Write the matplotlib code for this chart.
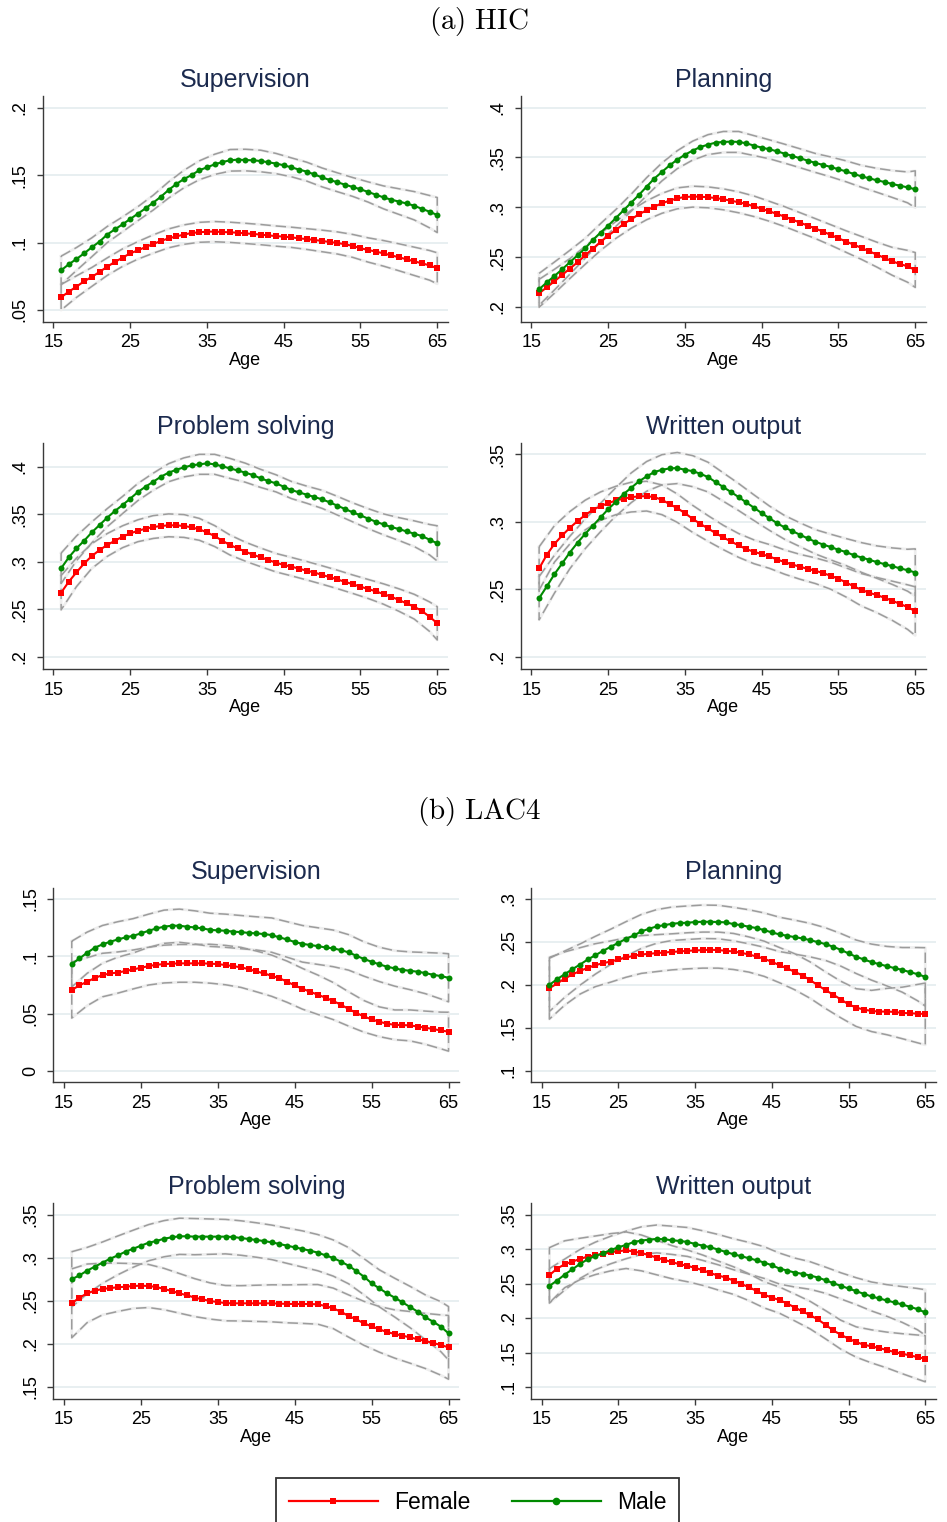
import matplotlib
matplotlib.use('Agg')
import matplotlib.pyplot as plt
from matplotlib.lines import Line2D

plt.rcParams['font.family'] = ['Liberation Sans', 'DejaVu Sans']
plt.rcParams['mathtext.fontset'] = 'cm'
plt.rcParams['lines.scale_dashes'] = False

# ---------------- data ----------------
ages = list(range(16, 66))
ci_ages = list(range(16, 65, 2)) + [65]
xticks = [15, 25, 35, 45, 55, 65]
section_titles = [r'$\mathrm{(a)\ HIC}$', r'$\mathrm{(b)\ LAC4}$']
series_labels = ['Female', 'Male']

# (a) HIC - Supervision
hic_sup_male = [.0794, .0839, .0878, .0920, .0965, .1007, .1059, .1098, .1135, .1175,
                .1214, .1254, .1296, .1340, .1390, .1434, .1471, .1501, .1536, .1558,
                .1580, .1597, .1610, .1615, .1612, .1610, .1605, .1595, .1586, .1573,
                .1558, .1541, .1526, .1505, .1483, .1464, .1447, .1429, .1412, .1395,
                .1375, .1355, .1335, .1318, .1304, .1290, .1273, .1250, .1229, .1204]
hic_sup_female = [.0594, .0636, .0673, .0713, .0745, .0782, .0821, .0856, .0888, .0920,
                  .0942, .0967, .0989, .1012, .1031, .1046, .1059, .1071, .1076, .1081,
                  .1081, .1078, .1076, .1073, .1068, .1064, .1059, .1053, .1048, .1044,
                  .1039, .1031, .1026, .1019, .1012, .1004, .0997, .0987, .0975, .0958,
                  .0945, .0933, .0920, .0905, .0891, .0876, .0861, .0846, .0831, .0809]
hic_sup_male_hw = [.0105, .0085, .007, .006, .0055, .0052, .0055, .006, .0065, .007, .0075, .008, .008,
                   .008, .0075, .007, .007, .007, .007, .007, .0075, .0085, .0095, .0105, .012, .013]
hic_sup_female_hw = [.0095, .008, .007, .0065, .0065, .0065, .0068, .007, .0072, .0074, .0075, .0075, .0075,
                     .0075, .0075, .0075, .0077, .008, .0082, .0085, .009, .0095, .01, .0105, .011, .0115]

# (a) HIC - Planning
hic_plan_male = [.2177, .2247, .2311, .2378, .2448, .2518, .2589, .2672, .2746, .2816,
                 .2893, .2970, .3047, .3124, .3207, .3288, .3355, .3421, .3478, .3528,
                 .3569, .3605, .3629, .3649, .3656, .3659, .3656, .3642, .3619, .3599,
                 .3582, .3562, .3538, .3515, .3492, .3468, .3445, .3425, .3405, .3381,
                 .3361, .3334, .3311, .3291, .3271, .3254, .3234, .3217, .3200, .3181]
hic_plan_female = [.2137, .2197, .2258, .2321, .2385, .2448, .2518, .2585, .2652, .2716,
                   .2773, .2833, .2880, .2930, .2970, .3007, .3040, .3067, .3090, .3104,
                   .3107, .3107, .3100, .3094, .3080, .3067, .3050, .3033, .3010, .2985,
                   .2960, .2933, .2906, .2876, .2846, .2816, .2786, .2756, .2722, .2689,
                   .2656, .2625, .2592, .2559, .2525, .2492, .2458, .2431, .2408, .2371]
hic_plan_male_hw = [.016, .014, .012, .010, .009, .0085, .0085, .009, .009, .009, .0095, .010, .0105,
                    .0105, .010, .0095, .0095, .0095, .0095, .010, .0105, .011, .012, .0135, .0155, .0185]
hic_plan_female_hw = [.014, .012, .010, .009, .0085, .0085, .009, .0095, .010, .0105, .0105, .0105, .0105,
                      .0105, .0103, .010, .010, .010, .010, .0103, .0108, .0115, .0125, .014, .016, .0175]

# (a) HIC - Problem solving
hic_prob_male = [.2932, .3047, .3142, .3222, .3310, .3387, .3464, .3534, .3597, .3664,
                 .3734, .3790, .3842, .3895, .3937, .3968, .3993, .4014, .4025, .4035,
                 .4025, .4004, .3982, .3961, .3937, .3912, .3877, .3849, .3825, .3790,
                 .3755, .3730, .3706, .3681, .3657, .3625, .3590, .3555, .3520, .3489,
                 .3454, .3422, .3394, .3366, .3345, .3320, .3296, .3271, .3233, .3194]
hic_prob_female = [.2676, .2792, .2890, .2984, .3061, .3124, .3177, .3222, .3264, .3299,
                   .3327, .3348, .3366, .3377, .3384, .3384, .3377, .3363, .3342, .3310,
                   .3271, .3222, .3177, .3142, .3107, .3075, .3047, .3019, .2991, .2967,
                   .2950, .2928, .2907, .2888, .2862, .2840, .2815, .2790, .2765, .2739,
                   .2715, .2690, .2662, .2634, .2599, .2564, .2529, .2483, .2424, .2354]
hic_prob_male_hw = [.016, .013, .011, .0095, .009, .009, .009, .0095, .010, .0105, .0105, .0105, .010,
                    .0095, .009, .009, .009, .0095, .0098, .010, .0105, .011, .012, .0135, .016, .0185]
hic_prob_female_hw = [.018, .015, .013, .012, .0115, .0115, .012, .012, .012, .0115, .011, .0105, .010,
                      .0098, .0097, .0097, .0097, .0097, .0097, .0097, .010, .0107, .0118, .013, .0155, .0175]

# (a) HIC - Written output
hic_writ_male = [.2434, .2521, .2612, .2691, .2772, .2844, .2910, .2970, .3031, .3093,
                 .3147, .3204, .3251, .3298, .3335, .3367, .3384, .3394, .3397, .3384,
                 .3374, .3355, .3330, .3293, .3256, .3219, .3182, .3142, .3103, .3063,
                 .3026, .2989, .2957, .2930, .2903, .2876, .2851, .2831, .2812, .2792,
                 .2775, .2752, .2735, .2718, .2701, .2686, .2671, .2655, .2641, .2624]
hic_writ_female = [.2654, .2755, .2836, .2898, .2955, .3004, .3049, .3088, .3115, .3137,
                   .3157, .3170, .3182, .3187, .3189, .3182, .3162, .3130, .3100, .3063,
                   .3021, .2984, .2950, .2915, .2883, .2854, .2824, .2797, .2777, .2760,
                   .2743, .2720, .2701, .2683, .2666, .2651, .2637, .2619, .2600, .2577,
                   .2550, .2521, .2496, .2474, .2457, .2437, .2415, .2392, .2368, .2338]
hic_writ_male_hw = [.016, .014, .012, .011, .0105, .0105, .011, .011, .0112, .0115, .0115, .011, .0105,
                    .010, .0095, .009, .0088, .0088, .009, .0095, .010, .011, .012, .0135, .0155, .0175]
hic_writ_female_hw = [.016, .0135, .012, .011, .0105, .0105, .011, .011, .011, .0105, .010, .0095, .009,
                      .0088, .0088, .0088, .009, .0092, .0095, .010, .0108, .012, .013, .0145, .0165, .018]

# (b) LAC4 - Supervision
lac_sup_male = [.0932, .0981, .1031, .1075, .1104, .1127, .1147, .1165, .1179, .1200,
                .1223, .1243, .1258, .1267, .1267, .1258, .1252, .1243, .1231, .1226,
                .1223, .1215, .1211, .1204, .1200, .1194, .1185, .1165, .1147, .1124,
                .1109, .1098, .1089, .1077, .1069, .1054, .1034, .1005, .0976, .0952,
                .0929, .0909, .0894, .0881, .0873, .0865, .0853, .0838, .0827, .0812]
lac_sup_female = [.0705, .0746, .0778, .0810, .0836, .0850, .0858, .0871, .0885, .0900,
                  .0914, .0926, .0932, .0935, .0938, .0938, .0938, .0938, .0935, .0932,
                  .0923, .0914, .0903, .0888, .0868, .0850, .0830, .0808, .0778, .0745,
                  .0716, .0690, .0664, .0638, .0609, .0577, .0540, .0504, .0475, .0448,
                  .0428, .0411, .0401, .0399, .0396, .0386, .0376, .0364, .0352, .0341]
lac_sup_male_hw = [.020, .018, .0165, .0155, .015, .0145, .0145, .0145, .0145, .0145, .0145, .0145, .0145,
                   .015, .0155, .016, .016, .016, .0155, .015, .015, .0155, .0165, .018, .020, .021]
lac_sup_female_hw = [.0245, .021, .019, .018, .017, .0165, .0165, .0165, .0165, .017, .0172, .0175, .0178,
                     .018, .018, .0178, .0172, .0162, .015, .0138, .013, .013, .0135, .0145, .016, .017]

# (b) LAC4 - Planning
lac_plan_male = [.2000, .2066, .2125, .2183, .2237, .2296, .2346, .2397, .2444, .2490,
                 .2537, .2576, .2623, .2654, .2681, .2696, .2712, .2720, .2724, .2732,
                 .2735, .2735, .2732, .2728, .2708, .2696, .2677, .2662, .2638, .2611,
                 .2588, .2572, .2556, .2541, .2521, .2498, .2475, .2444, .2408, .2366,
                 .2327, .2296, .2265, .2241, .2218, .2195, .2175, .2148, .2125, .2093]
lac_plan_female = [.1961, .2016, .2074, .2121, .2163, .2198, .2230, .2253, .2272, .2296,
                   .2319, .2339, .2354, .2362, .2370, .2377, .2385, .2389, .2397, .2401,
                   .2405, .2409, .2405, .2397, .2389, .2374, .2354, .2331, .2304, .2268,
                   .2230, .2191, .2152, .2109, .2055, .1996, .1938, .1887, .1829, .1774,
                   .1735, .1712, .1696, .1689, .1689, .1685, .1673, .1669, .1665, .1661]
lac_plan_male_hw = [.031, .027, .024, .022, .0205, .020, .0198, .0196, .0195, .0195, .0195, .0195, .0195,
                    .0198, .020, .020, .0198, .0195, .019, .019, .0195, .021, .023, .026, .031, .034]
lac_plan_female_hw = [.036, .031, .027, .025, .024, .023, .022, .0215, .021, .021, .021, .021, .021,
                      .0205, .0205, .0205, .021, .0212, .0213, .0213, .022, .024, .027, .030, .034, .036]

# (b) LAC4 - Problem solving
lac_prob_male = [.2750, .2796, .2850, .2897, .2943, .2989, .3028, .3071, .3105, .3140,
                 .3175, .3194, .3221, .3237, .3249, .3249, .3245, .3245, .3245, .3245,
                 .3245, .3241, .3229, .3218, .3206, .3194, .3179, .3160, .3140, .3121,
                 .3102, .3082, .3059, .3028, .2997, .2955, .2908, .2846, .2780, .2703,
                 .2645, .2587, .2537, .2483, .2428, .2374, .2308, .2258, .2200, .2123]
lac_prob_female = [.2471, .2537, .2587, .2618, .2637, .2649, .2657, .2664, .2672, .2676,
                   .2672, .2661, .2637, .2614, .2587, .2564, .2537, .2517, .2498, .2486,
                   .2473, .2471, .2471, .2471, .2471, .2471, .2471, .2467, .2465, .2463,
                   .2463, .2463, .2459, .2440, .2413, .2374, .2324, .2285, .2239, .2204,
                   .2169, .2138, .2115, .2096, .2076, .2053, .2034, .2011, .1987, .1960]
lac_prob_male_hw = [.032, .027, .024, .0225, .0215, .021, .021, .021, .021, .0205, .020, .020, .020,
                    .020, .0205, .021, .021, .021, .021, .021, .0215, .0225, .024, .026, .029, .031]
lac_prob_female_hw = [.040, .034, .030, .028, .026, .025, .024, .023, .022, .021, .0205, .0205, .021,
                      .0215, .022, .0225, .023, .0235, .0245, .0255, .0265, .028, .030, .032, .035, .037]

# (b) LAC4 - Written output
lac_writ_male = [.2467, .2544, .2631, .2708, .2786, .2853, .2902, .2940, .2988, .3027,
                 .3061, .3104, .3124, .3138, .3148, .3143, .3128, .3119, .3104, .3075,
                 .3051, .3027, .2993, .2959, .2926, .2897, .2868, .2839, .2805, .2766,
                 .2718, .2689, .2660, .2641, .2617, .2588, .2549, .2506, .2467, .2429,
                 .2390, .2351, .2313, .2284, .2255, .2226, .2197, .2163, .2129, .2081]
lac_writ_female = [.2622, .2718, .2781, .2819, .2858, .2892, .2911, .2931, .2955, .2969,
                   .2984, .2964, .2945, .2911, .2877, .2844, .2810, .2781, .2757, .2728,
                   .2694, .2651, .2617, .2588, .2544, .2496, .2448, .2395, .2337, .2298,
                   .2260, .2211, .2153, .2096, .2042, .1980, .1903, .1820, .1758, .1700,
                   .1652, .1613, .1589, .1565, .1536, .1507, .1483, .1458, .1434, .1410]
lac_writ_male_hw = [.025, .0225, .021, .020, .020, .020, .020, .0202, .0205, .021, .0215, .022, .0225,
                    .023, .023, .0225, .021, .020, .019, .019, .0195, .021, .023, .026, .030, .033]
lac_writ_female_hw = [.040, .034, .030, .028, .027, .0265, .026, .025, .024, .023, .022, .021, .020,
                      .0195, .019, .019, .0195, .020, .0205, .021, .022, .024, .026, .029, .032, .0335]

panel_titles = ['Supervision', 'Planning', 'Problem solving', 'Written output'] * 2
panel_male = [hic_sup_male, hic_plan_male, hic_prob_male, hic_writ_male,
              lac_sup_male, lac_plan_male, lac_prob_male, lac_writ_male]
panel_female = [hic_sup_female, hic_plan_female, hic_prob_female, hic_writ_female,
                lac_sup_female, lac_plan_female, lac_prob_female, lac_writ_female]
panel_male_hw = [hic_sup_male_hw, hic_plan_male_hw, hic_prob_male_hw, hic_writ_male_hw,
                 lac_sup_male_hw, lac_plan_male_hw, lac_prob_male_hw, lac_writ_male_hw]
panel_female_hw = [hic_sup_female_hw, hic_plan_female_hw, hic_prob_female_hw, hic_writ_female_hw,
                   lac_sup_female_hw, lac_plan_female_hw, lac_prob_female_hw, lac_writ_female_hw]
panel_yticks = [[.05, .1, .15, .2], [.2, .25, .3, .35, .4], [.2, .25, .3, .35, .4], [.2, .25, .3, .35],
                [0, .05, .1, .15], [.1, .15, .2, .25, .3], [.15, .2, .25, .3, .35], [.1, .15, .2, .25, .3, .35]]
panel_ylabels = [['.05', '.1', '.15', '.2'], ['.2', '.25', '.3', '.35', '.4'],
                 ['.2', '.25', '.3', '.35', '.4'], ['.2', '.25', '.3', '.35'],
                 ['0', '.05', '.1', '.15'], ['.1', '.15', '.2', '.25', '.3'],
                 ['.15', '.2', '.25', '.3', '.35'], ['.1', '.15', '.2', '.25', '.3', '.35']]
panel_ylim = [(0.0413, 0.2087), (0.1852, 0.4117), (0.1874, 0.4246), (0.191, 0.358),
              (-0.0101, 0.1599), (0.0865, 0.3132), (0.1364, 0.3632), (0.083, 0.3665)]

# ---------------- layout (pixels: left, top, right, bottom) ----------------
W, H = 947, 1522
boxes = [(42.7, 96, 448, 321.7), (520.7, 96, 926, 321.7),
         (42.7, 443.3, 448, 669), (520.7, 443.3, 926, 669),
         (53.3, 887.7, 459.3, 1082.3), (531, 887.7, 936, 1082.3),
         (53.3, 1203.3, 459.3, 1398.7), (531, 1203.3, 936, 1398.7)]

RED = '#ff0000'
GREEN = '#008a00'
TITLE_C = '#1b2a4e'
CI_C = '#9c9c9c'

fig = plt.figure(figsize=(W / 100, H / 100), dpi=100)
fig.patch.set_facecolor('white')

for i in range(8):
    l, t, r, b = boxes[i]
    ax = fig.add_axes([l / W, 1 - b / H, (r - l) / W, (b - t) / H])
    for s in ['top', 'right']:
        ax.spines[s].set_visible(False)
    for s in ['left', 'bottom']:
        ax.spines[s].set_color('#3a3a3a')
        ax.spines[s].set_linewidth(1.0)
    ax.set_xlim(13.6, 66.4)
    ax.set_ylim(*panel_ylim[i])
    ax.set_yticks(panel_yticks[i])
    ax.set_yticklabels(panel_ylabels[i], rotation=90, va='center')
    ax.set_xticks(xticks)
    ax.set_xticklabels([str(v) for v in xticks])
    ax.tick_params(axis='both', direction='out', length=4, width=1, color='#3a3a3a',
                   labelsize=13, labelcolor='black')
    ax.tick_params(axis='y', pad=6)
    ax.tick_params(axis='x', pad=5)
    ax.grid(axis='y', color='#e6eef0', linewidth=1.3)
    ax.set_axisbelow(True)
    ax.set_xlabel('Age', fontsize=13, labelpad=0.5)
    ax.set_title(panel_titles[i], fontsize=18, color=TITLE_C, pad=6.5)

    # confidence bands (closed dashed outlines)
    for mean, hw in [(panel_female[i], panel_female_hw[i]), (panel_male[i], panel_male_hw[i])]:
        mc = [mean[a - 16] for a in ci_ages]
        hi = [m + h for m, h in zip(mc, hw)]
        lo = [m - h for m, h in zip(mc, hw)]
        xs = ci_ages + ci_ages[::-1] + [ci_ages[0]]
        ys = hi + lo[::-1] + [hi[0]]
        ax.plot(xs, ys, color='#eeeeee', lw=2.0, solid_joinstyle='round', zorder=2)
        ax.plot(xs, ys, color=CI_C, lw=1.1, dashes=(7.5, 3.5), zorder=3)

    ax.plot(ages, panel_female[i], color=RED, lw=1.5, marker='s', ms=4.6,
            markeredgewidth=0, zorder=4)
    ax.plot(ages, panel_male[i], color=GREEN, lw=1.5, marker='o', ms=4.3,
            markeredgewidth=0, zorder=5)

fig.text(479 / W, 1 - 21 / H, section_titles[0], fontsize=21, ha='center', va='center')
fig.text(479 / W, 1 - 812 / H, section_titles[1], fontsize=21, ha='center', va='center')

handles = [Line2D([], [], color=RED, lw=1.6, marker='s', ms=5, markeredgewidth=0),
           Line2D([], [], color=GREEN, lw=1.6, marker='o', ms=5.5, markeredgewidth=0)]
leg = fig.legend(handles, series_labels, loc='upper center',
                 bbox_to_anchor=(477.5 / W, 1 - 1478 / H), ncol=2, frameon=True,
                 fancybox=False, edgecolor='black', fontsize=16.5, handlelength=3.9,
                 handletextpad=0.7, columnspacing=1.8, borderpad=0.55, borderaxespad=0)
leg.get_frame().set_linewidth(1.3)

fig.savefig('out.png', dpi=100, facecolor='white')
